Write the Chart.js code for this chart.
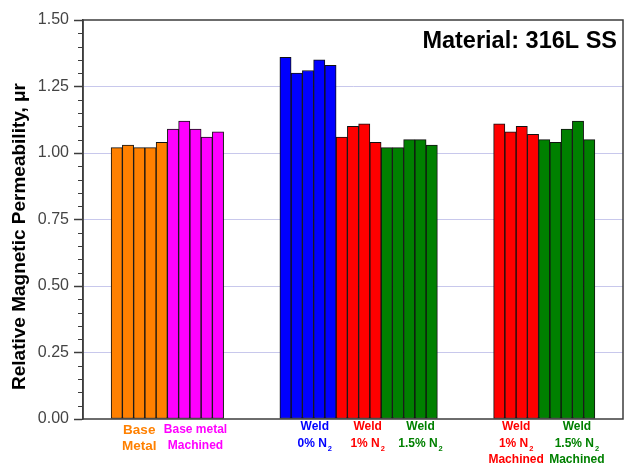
<!DOCTYPE html>
<html>
<head>
<meta charset="utf-8">
<script src="https://cdn.jsdelivr.net/npm/chart.js@4/dist/chart.umd.min.js"></script>
<style>
  html, body { margin: 0; padding: 0; background: #ffffff; }
  canvas { display: block; }
</style>
</head>
<body>
<canvas id="chart" width="624" height="466"></canvas>
<script>
// Relative magnetic permeability readings for each specimen condition
const baseMetal        = [1.02, 1.03, 1.02, 1.02, 1.04];
const baseMetalMachined = [1.09, 1.12, 1.09, 1.06, 1.08];
const weld0N2          = [1.36, 1.30, 1.31, 1.35, 1.33];
const weld1N2          = [1.06, 1.10, 1.11, 1.04];
const weld15N2         = [1.02, 1.02, 1.05, 1.05, 1.03];
const weld1N2Machined  = [1.11, 1.08, 1.10, 1.07];
const weld15N2Machined = [1.05, 1.04, 1.09, 1.12, 1.05];

// Group captions under the axis ("_" marks a subscript)
const captions = [
  ['Base', 'Metal'],
  ['Base metal', 'Machined'],
  ['Weld', '0% N_2'],
  ['Weld', '1% N_2'],
  ['Weld', '1.5% N_2'],
  ['Weld', '1% N_2', 'Machined'],
  ['Weld', '1.5% N_2', 'Machined']
];

// Y-axis tick values
const yTicks = [0, 0.25, 0.50, 0.75, 1.00, 1.25, 1.50];

const titleText = 'Material: 316L SS';
const yTitleText = 'Relative Magnetic Permeability, \u03bcr';

// ---- layout of bar slots along the category axis ----
const groups = [
  { values: baseMetal,         color: '#ff8000', gapBefore: 3 },
  { values: baseMetalMachined, color: '#ff00ff', gapBefore: 0 },
  { values: weld0N2,           color: '#0000ff', gapBefore: 5 },
  { values: weld1N2,           color: '#ff0000', gapBefore: 0 },
  { values: weld15N2,          color: '#008000', gapBefore: 0 },
  { values: weld1N2Machined,   color: '#ff0000', gapBefore: 5 },
  { values: weld15N2Machined,  color: '#008000', gapBefore: 0 }
];
const trailingSlots = 3;

// caption placement: centre (in slot units), first line y, font size, line gap
const captionStyle = [
  { at: 5.0,  y: 430, size: 13.5, gap: 16 },
  { at: 10.0, y: 430, size: 12,   gap: 16 },
  { at: 20.6, y: 427, size: 12,   gap: 16.5 },
  { at: 25.3, y: 427, size: 12,   gap: 16.5 },
  { at: 30.0, y: 427, size: 12,   gap: 16.5 },
  { at: 38.5, y: 427, size: 12,   gap: 16.5 },
  { at: 43.9, y: 427, size: 12,   gap: 16.5 }
];

// Build slot positions for each group
let slot = 0;
groups.forEach(g => {
  slot += g.gapBefore;
  g.start = slot;
  slot += g.values.length;
});
const slotCount = slot + trailingSlots;
const categories = Array.from({ length: slotCount }, () => '');

const datasets = groups.map(g => {
  const data = new Array(slotCount).fill(null);
  g.values.forEach((v, i) => { data[g.start + i] = v; });
  return {
    data,
    backgroundColor: g.color,
    borderColor: '#111111',
    borderWidth: 1,
    borderSkipped: false,
    barPercentage: 1,
    categoryPercentage: 1,
    grouped: false
  };
});

const AXIS = '#3c3c3c';
const FONT = '"Liberation Sans", Arial, Helvetica, sans-serif';

const decorations = {
  id: 'decorations',
  afterDraw(chart) {
    const { ctx, chartArea, scales } = chart;
    const x = scales.x, y = scales.y;
    ctx.save();

    // plot frame
    ctx.strokeStyle = AXIS;
    ctx.lineWidth = 1.5;
    ctx.strokeRect(chartArea.left, chartArea.top, chartArea.width, chartArea.height);

    // minor ticks every 0.05
    ctx.lineWidth = 1.2;
    ctx.beginPath();
    for (let k = 1; k < 30; k++) {
      if (k % 5 === 0) continue;
      const py = Math.round(y.getPixelForValue(k * 0.05)) + 0.5;
      ctx.moveTo(chartArea.left - 5, py);
      ctx.lineTo(chartArea.left, py);
    }
    ctx.stroke();

    // chart title
    ctx.fillStyle = '#000000';
    ctx.font = 'bold 23.5px ' + FONT;
    ctx.textAlign = 'right';
    ctx.textBaseline = 'alphabetic';
    ctx.fillText(titleText, 617, 48);

    // y-axis title
    ctx.save();
    ctx.translate(25, 236.5);
    ctx.rotate(-Math.PI / 2);
    ctx.font = 'bold 19px ' + FONT;
    ctx.textAlign = 'center';
    ctx.fillText(yTitleText, 0, 0);
    ctx.restore();

    // group captions
    ctx.textBaseline = 'middle';
    ctx.textAlign = 'left';
    captions.forEach((lines, gi) => {
      const st = captionStyle[gi];
      const cx = x.getPixelForValue(st.at);
      ctx.fillStyle = groups[gi].color;
      lines.forEach((line, li) => {
        const [main, sub] = line.split('_');
        const ly = st.y + li * st.gap;
        ctx.font = 'bold ' + st.size + 'px ' + FONT;
        const wMain = ctx.measureText(main).width;
        ctx.font = 'bold ' + (st.size * 0.62) + 'px ' + FONT;
        const wSub = sub ? ctx.measureText(sub).width + 1 : 0;
        const x0 = cx - (wMain + wSub) / 2;
        ctx.font = 'bold ' + st.size + 'px ' + FONT;
        ctx.fillText(main, x0, ly);
        if (sub) {
          ctx.font = 'bold ' + (st.size * 0.62) + 'px ' + FONT;
          ctx.fillText(sub, x0 + wMain + 1, ly + 5);
        }
      });
    });

    ctx.restore();
  }
};

new Chart(document.getElementById('chart'), {
  type: 'bar',
  data: { labels: categories, datasets },
  options: {
    responsive: false,
    animation: false,
    layout: { padding: { top: 20, right: 1, bottom: 47, left: 0 } },
    plugins: {
      legend: { display: false },
      tooltip: { enabled: false }
    },
    scales: {
      x: {
        display: false,
        offset: false
      },
      y: {
        min: yTicks[0],
        max: yTicks[yTicks.length - 1],
        afterBuildTicks(scale) {
          scale.ticks = yTicks.map(v => ({ value: v }));
        },
        afterFit(scale) { scale.width = 83; },
        ticks: {
          padding: 5,
          color: '#444444',
          font: { family: FONT, size: 16 },
          callback: v => Number(v).toFixed(2)
        },
        grid: {
          drawTicks: true,
          tickLength: 9,
          tickColor: AXIS,
          tickWidth: 1.5,
          lineWidth: 1,
          color: c => (c.tick && c.tick.value > 0 && c.tick.value < 1.5) ? '#c8c8ec' : 'rgba(0,0,0,0)'
        },
        border: { display: true, color: AXIS, width: 1.5 }
      }
    }
  },
  plugins: [decorations]
});
</script>
</body>
</html>
